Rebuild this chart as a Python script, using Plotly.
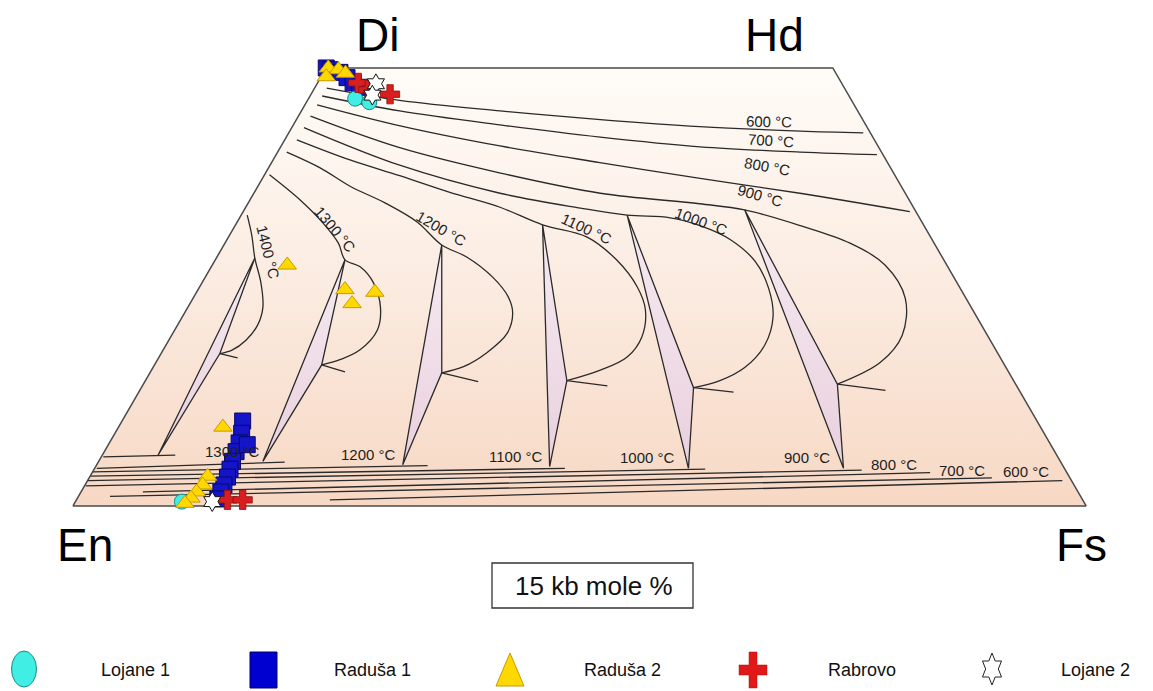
import math
import numpy as np
import plotly.graph_objects as go

W, H = 1153, 691
FONT = "Liberation Sans, Arial, sans-serif"

# ---------------- pyroxene quadrilateral data (mole %) ----------------
# Quadrilateral corners En, Fs, Hd, Di
QUAD_WO = [0, 0, 50, 50, 0]
QUAD_FS = [0, 100, 50, 0, 0]

# Ca-rich (augite) isotherms, 15 kb: Wo and Fs along each curve
UP_600_WO = [47.7, 46.3, 45.1, 44.1, 43.3, 42.8, 42.6]
UP_600_FS = [1.2, 9.1, 19.6, 30.0, 40.2, 50.4, 56.7]
UP_700_WO = [46.8, 45.1, 43.5, 42.1, 41.0, 40.4, 40.1]
UP_700_FS = [1.2, 9.7, 20.4, 31.0, 41.4, 51.6, 59.3]
UP_800_WO = [45.8, 43.4, 41.1, 39.2, 37.4, 35.7, 33.6]
UP_800_FS = [1.2, 10.6, 21.6, 32.4, 43.2, 53.9, 65.8]
UP_900_WO = [44.5, 40.9, 38.0, 35.7, 34.5, 33.8, 32.0, 30.0, 27.5, 23.7, 19.5, 16.4, 13.9]
UP_900_FS = [1.2, 11.8, 23.2, 34.2, 44.6, 49.4, 55.8, 61.7, 66.4, 70.3, 72.1, 71.5, 68.5]
UP_1000_WO = [43.2, 38.9, 35.7, 34.0, 33.2, 32.9, 32.0, 30.4, 27.9, 24.9, 21.6, 18.4, 15.8, 14.3, 13.5]
UP_1000_FS = [1.2, 12.8, 24.3, 33.1, 38.1, 42.5, 45.9, 49.7, 53.4, 56.2, 58.3, 59.1, 58.4, 56.7, 54.5]
UP_1100_WO = [41.8, 39.5, 37.7, 35.8, 34.1, 32.1, 30.7, 28.1, 25.0, 22.4, 19.3, 17.0, 15.5, 14.3]
UP_1100_FS = [1.2, 7.6, 13.4, 19.3, 25.1, 30.3, 35.4, 39.6, 43.2, 45.3, 46.5, 46.2, 44.3, 41.6]
UP_1200_WO = [40.4, 38.6, 36.5, 34.6, 32.4, 29.8, 28.4, 26.1, 23.9, 22.0, 19.7, 17.5, 15.9, 15.2]
UP_1200_FS = [0.9, 5.1, 9.1, 13.5, 17.8, 21.5, 24.7, 28.4, 31.0, 32.4, 33.0, 32.1, 30.6, 28.8]
UP_1300_WO = [37.8, 34.9, 32.4, 30.0, 28.1, 27.3, 25.5, 22.7, 20.1, 17.8, 16.7, 16.1]
UP_1300_FS = [0.5, 5.0, 8.4, 11.2, 12.8, 14.7, 16.9, 19.0, 20.0, 19.4, 18.0, 16.5]
UP_1400_WO = [33.2, 30.9, 28.3, 25.5, 22.7, 20.7, 18.9, 17.8, 17.4]
UP_1400_FS = [0.6, 2.2, 3.8, 5.8, 7.4, 7.9, 7.6, 6.8, 5.8]

# Three-phase tie triangles (augite - pigeonite - orthopyroxene)
TIE_T = [1400, 1300, 1200, 1100, 1000, 900]
TIE_TOP_WO = [28.3, 28.1, 29.8, 32.1, 33.2, 33.8]
TIE_TOP_FS = [3.8, 12.8, 21.5, 30.3, 38.1, 49.4]
TIE_KINK_WO = [17.4, 16.1, 15.2, 14.3, 13.5, 13.9]
TIE_KINK_FS = [5.8, 16.5, 28.8, 41.6, 54.5, 68.5]
TIE_BASE_WO = [5.8, 5.1, 4.7, 4.5, 4.3, 4.3]
TIE_BASE_FS = [5.5, 16.2, 30.2, 44.8, 58.6, 73.9]
TICK_WO = [16.9, 15.3, 14.2, 13.7, 13.0, 13.2]
TICK_FS = [7.8, 19.2, 32.9, 45.9, 58.7, 73.6]

# Ca-poor (orthopyroxene) isotherms
LOW_T = [1400, 1300, 1200, 1100, 1000, 900, 800, 700, 600]
LOW_START_WO = [5.6, 4.3, 3.9, 3.4, 2.9, 2.3, 1.6, 1.1, 0.7]
LOW_START_FS = [0.2, 0.2, 0.0, 0.0, 0.0, 0.1, 6.1, 3.1, 25.0]
LOW_END_WO = [5.8, 5.0, 4.6, 4.3, 4.2, 4.1, 3.8, 3.2, 2.9]
LOW_END_FS = [7.2, 18.4, 32.7, 46.4, 60.3, 75.8, 82.7, 89.1, 96.2]

# Isotherm label anchors
UP_LABEL_T = [600, 700, 800, 900, 1000, 1100, 1200, 1300, 1400]
UP_LABEL_WO = [43.9, 41.7, 38.7, 35.4, 32.5, 31.7, 31.7, 31.6, 28.9]
UP_LABEL_FS = [46.7, 48.0, 49.2, 50.1, 45.8, 34.8, 20.5, 10.1, 4.8]
LOW_LABEL_T = [1300, 1200, 1100, 1000, 900, 800, 700, 600]
LOW_LABEL_WO = [6.2, 5.9, 5.7, 5.5, 5.5, 4.7, 4.1, 3.9]
LOW_LABEL_FS = [12.6, 26.2, 40.8, 54.0, 69.7, 78.7, 85.7, 92.1]

# Analysed pyroxenes
RADUSA1_WO = [50.0, 49.8, 49.5, 48.9, 48.3, 47.8, 9.7, 8.3, 7.2, 6.2, 5.1, 4.2, 3.3, 2.4, 1.6, 0.8, 7.0]
RADUSA1_FS = [0.0, 0.5, 1.6, 2.6, 3.5, 4.4, 11.9, 12.5, 12.8, 13.0, 13.2, 13.4, 13.6, 13.7, 13.8, 13.9, 13.7]
RADUSA2_WO = [50.0, 49.8, 49.4, 49.0, 27.5, 24.7, 23.1, 24.4, 9.0, 3.4, 2.4, 1.6, 0.9, 0.3]
RADUSA2_FS = [0.2, 1.3, 2.2, 0.5, 7.4, 14.5, 16.0, 17.6, 10.3, 11.6, 11.6, 11.4, 11.2, 10.9]
RABROVO_WO = [48.3, 47.5, 47.0, 0.7, 0.7]
RABROVO_FS = [4.0, 5.4, 7.8, 14.9, 16.4]
LOJANE2_WO = [48.2, 46.9, 0.5]
LOJANE2_FS = [5.8, 6.1, 13.5]
LOJANE1_WO = [46.5, 46.1, 0.5]
LOJANE1_FS = [4.6, 6.2, 10.5]


def qx(wo, fs):
    """Horizontal position in the quadrilateral: Fs + Wo/2."""
    return np.asarray(fs, float) + np.asarray(wo, float) / 2.0


LINE = dict(color="#2a2a2a", width=1.3)
fig = go.Figure()

# background of the quadrilateral with vertical colour gradient
fig.add_trace(go.Scatter(
    x=qx(QUAD_WO, QUAD_FS), y=QUAD_WO, mode="lines", fill="toself",
    fillgradient=dict(type="vertical",
                      colorscale=[[0, "#f7d8c4"], [0.5, "#fbebe0"], [1, "#fffcf8"]]),
    line=dict(width=0), hoverinfo="skip"))

# tie triangles
for i in range(len(TIE_T)):
    wo = [TIE_TOP_WO[i], TIE_KINK_WO[i], TIE_BASE_WO[i], TIE_TOP_WO[i]]
    fs = [TIE_TOP_FS[i], TIE_KINK_FS[i], TIE_BASE_FS[i], TIE_TOP_FS[i]]
    fig.add_trace(go.Scatter(x=qx(wo, fs), y=wo, mode="lines", fill="toself",
                             fillgradient=dict(type="vertical",
                                               colorscale=[[0, "#e9d0de"], [1, "#f6ebf1"]]),
                             line=LINE, hoverinfo="skip"))
    wo = [TIE_KINK_WO[i], TICK_WO[i]]
    fs = [TIE_KINK_FS[i], TICK_FS[i]]
    fig.add_trace(go.Scatter(x=qx(wo, fs), y=wo, mode="lines", line=LINE, hoverinfo="skip"))

# augite isotherms
for wo, fs in [(UP_600_WO, UP_600_FS), (UP_700_WO, UP_700_FS), (UP_800_WO, UP_800_FS),
               (UP_900_WO, UP_900_FS), (UP_1000_WO, UP_1000_FS), (UP_1100_WO, UP_1100_FS),
               (UP_1200_WO, UP_1200_FS), (UP_1300_WO, UP_1300_FS), (UP_1400_WO, UP_1400_FS)]:
    fig.add_trace(go.Scatter(x=qx(wo, fs), y=wo, mode="lines",
                             line=dict(color=LINE["color"], width=LINE["width"], shape="spline"),
                             hoverinfo="skip"))

# orthopyroxene isotherms
for i in range(len(LOW_T)):
    wo = [LOW_START_WO[i], LOW_END_WO[i]]
    fs = [LOW_START_FS[i], LOW_END_FS[i]]
    fig.add_trace(go.Scatter(x=qx(wo, fs), y=wo, mode="lines", line=LINE, hoverinfo="skip"))

# quadrilateral outline
fig.add_trace(go.Scatter(x=qx(QUAD_WO, QUAD_FS), y=QUAD_WO, mode="lines",
                         line=dict(color="#4a4a4a", width=1.5), hoverinfo="skip"))

# samples
SERIES = [
    ("Raduša 1", RADUSA1_WO, RADUSA1_FS, dict(symbol="square", size=16, color="#1414c8",
                                              line=dict(color="#0a0a66", width=1))),
    ("Lojane 1", LOJANE1_WO, LOJANE1_FS, dict(symbol="circle", size=15, color="#40eee4",
                                              line=dict(color="#1c8c86", width=1))),
    ("Raduša 2", RADUSA2_WO, RADUSA2_FS, dict(symbol="triangle-up", size=16, color="#ffd800",
                                              line=dict(color="#c89a00", width=1))),
    ("Rabrovo", RABROVO_WO, RABROVO_FS, dict(symbol="cross", size=16, color="#d81e1e",
                                             line=dict(color="#8c1010", width=0.8))),
    ("Lojane 2", LOJANE2_WO, LOJANE2_FS, dict(symbol="hexagram", size=15, color="white",
                                              line=dict(color="#111111", width=1))),
]
for name, wo, fs, mk in SERIES:
    fig.add_trace(go.Scatter(x=qx(wo, fs), y=wo, mode="markers", name=name, marker=mk))

annotations = []
# isotherm labels
UP_ANGLES = [1, 4, 10, 16, 20, 25, 30, 50, 76]
for t, wo, fs, ang in zip(UP_LABEL_T, UP_LABEL_WO, UP_LABEL_FS, UP_ANGLES):
    annotations.append(dict(x=float(qx(wo, fs)), y=wo, text=f"{t} °C", showarrow=False,
                            textangle=ang, xanchor="center", yanchor="middle",
                            font=dict(family=FONT, size=15, color="#1e1e1e")))
for t, wo, fs in zip(LOW_LABEL_T, LOW_LABEL_WO, LOW_LABEL_FS):
    annotations.append(dict(x=float(qx(wo, fs)), y=wo, text=f"{t} °C", showarrow=False,
                            xanchor="center", yanchor="middle",
                            font=dict(family=FONT, size=15, color="#1e1e1e")))

# corner end-members
for text, wo, fs, dx, dy in [("Di", 50, 0, 51, 33), ("Hd", 50, 50, -58, 33),
                             ("En", 0, 0, 12, -39), ("Fs", 0, 100, -5, -39)]:
    annotations.append(dict(x=float(qx(wo, fs)), y=wo, text=text, showarrow=False,
                            xshift=dx, yshift=dy, xanchor="center", yanchor="middle",
                            font=dict(family=FONT, size=46, color="black")))


def pp(x, y):
    return x / W, 1 - y / H


def path(points):
    pts = [pp(x, y) for x, y in points]
    return "M " + " L ".join(f"{a:.5f},{b:.5f}" for a, b in pts) + " Z"


shapes = []
# pressure / units box
x0, y1 = pp(492, 563)
x1, y0 = pp(693, 608)
shapes.append(dict(type="rect", xref="paper", yref="paper", x0=x0, y0=y0, x1=x1, y1=y1,
                   line=dict(color="#333333", width=1.3), fillcolor="white"))
bx, by = pp(594, 586)
annotations.append(dict(xref="paper", yref="paper", x=bx, y=by, text="15 kb mole %",
                        xanchor="center", yanchor="middle",
                        showarrow=False, font=dict(family=FONT, size=26, color="#111111")))

# legend row
ex0, ey1 = pp(11.5, 651)
ex1, ey0 = pp(36.5, 687)
shapes.append(dict(type="circle", xref="paper", yref="paper", x0=ex0, y0=ey0, x1=ex1, y1=ey1,
                   fillcolor="#40eee4", line=dict(color="#1c8c86", width=1)))
sx0, sy1 = pp(250, 652)
sx1, sy0 = pp(277, 688)
shapes.append(dict(type="rect", xref="paper", yref="paper", x0=sx0, y0=sy0, x1=sx1, y1=sy1,
                   fillcolor="#0000d0", line=dict(color="#000066", width=1)))
shapes.append(dict(type="path", xref="paper", yref="paper",
                   path=path([(510, 653), (524, 686), (496, 686)]),
                   fillcolor="#ffd800", line=dict(color="#c89a00", width=1)))
cx, cy = 753, 670
shapes.append(dict(type="path", xref="paper", yref="paper",
                   path=path([(cx - 4, cy - 18), (cx + 4, cy - 18), (cx + 4, cy - 5),
                              (cx + 14, cy - 5), (cx + 14, cy + 5), (cx + 4, cy + 5),
                              (cx + 4, cy + 18), (cx - 4, cy + 18), (cx - 4, cy + 5),
                              (cx - 14, cy + 5), (cx - 14, cy - 5), (cx - 4, cy - 5)]),
                   fillcolor="#e01818", line=dict(color="#b01010", width=0.5)))
star = []
for k in range(12):
    a = math.pi / 2 - k * math.pi / 6
    r = 1.0 if k % 2 == 0 else 1 / math.sqrt(3)
    star.append((992 + 11 * r * math.cos(a), 669 - 16 * r * math.sin(a)))
shapes.append(dict(type="path", xref="paper", yref="paper", path=path(star),
                   fillcolor="white", line=dict(color="#222222", width=1)))

for text, cx in [("Lojane 1", 135), ("Raduša 1", 372), ("Raduša 2", 622),
                 ("Rabrovo", 862), ("Lojane 2", 1095)]:
    ax, ay = pp(cx, 670)
    annotations.append(dict(xref="paper", yref="paper", x=ax, y=ay, text=text, showarrow=False,
                            xanchor="center", yanchor="middle",
                            font=dict(family=FONT, size=18, color="#111111")))

fig.update_layout(
    width=W, height=H, margin=dict(l=0, r=0, t=0, b=0),
    paper_bgcolor="white", plot_bgcolor="white", showlegend=False,
    xaxis=dict(range=[-7.2, 106.6], visible=False, fixedrange=True),
    yaxis=dict(range=[-21.12, 57.76], visible=False, fixedrange=True),
    annotations=annotations, shapes=shapes,
)

fig.write_html("out.html", config={"displayModeBar": False})
